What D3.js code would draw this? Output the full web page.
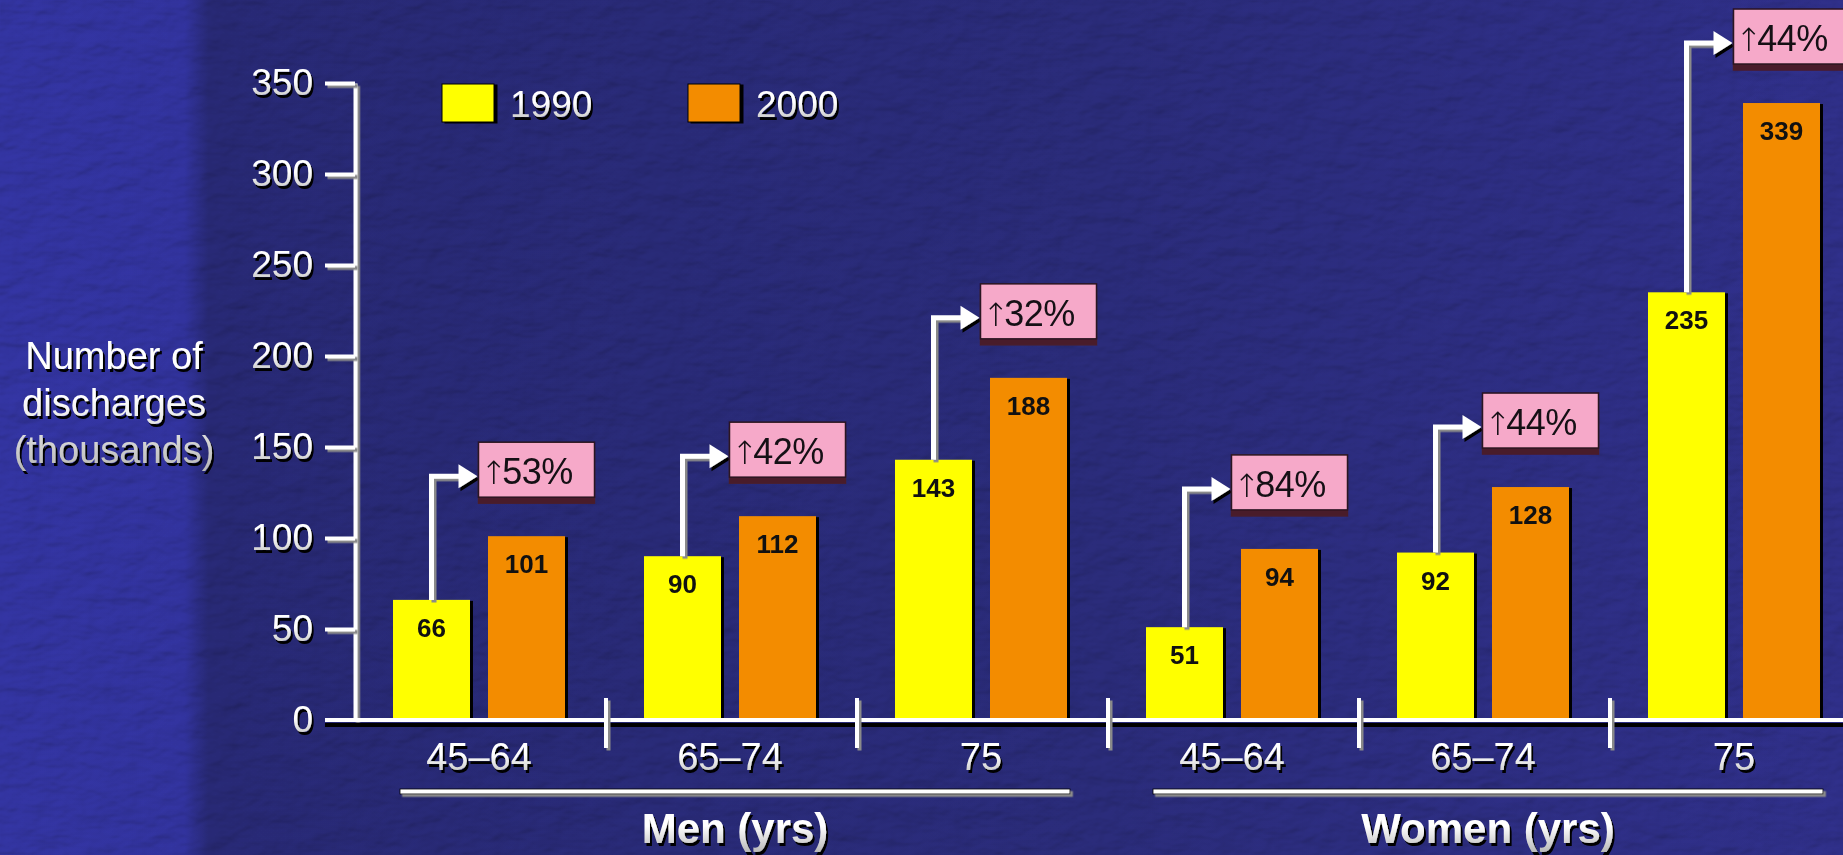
<!DOCTYPE html>
<html>
<head>
<meta charset="utf-8">
<script src="https://cdn.jsdelivr.net/npm/d3@7/dist/d3.min.js"></script>
<style>
  html, body { margin: 0; padding: 0; background: #212262; }
  svg { display: block; }
  text { font-family: "Liberation Sans", Arial, Helvetica, sans-serif; }
</style>
</head>
<body>
<svg id="chart" width="1843" height="855"></svg>
<script>
// Hospital discharges by sex and age band, 1990 vs 2000 (thousands)
const categories = ["45–64", "65–74", "75", "45–64", "65–74", "75"];
const seriesNames = ["1990", "2000"];
const values1990 = [66, 90, 143, 51, 92, 235];
const values2000 = [101, 112, 188, 94, 128, 339];
const increaseLabels = ["53%", "42%", "32%", "84%", "44%", "44%"];
const groupLabels = ["Men (yrs)", "Women (yrs)"];
const groupMembers = [[0, 1, 2], [3, 4, 5]];
const yTicks = [0, 50, 100, 150, 200, 250, 300, 350];
const yTitle = ["Number of", "discharges", "(thousands)"];

const W = 1843, H = 855;
const colors = { "1990": "#ffff00", "2000": "#f38c00" };
const svg = d3.select("#chart");
const defs = svg.append("defs");

// background tones and leather-like grain
const bg = defs.append("linearGradient").attr("id", "bgGrad").attr("x1", 0).attr("x2", 1).attr("y1", 0).attr("y2", 0);
[[0, "#28297f"], [0.1, "#27287c"], [0.113, "#1f205c"], [0.6, "#212260"], [1, "#25256c"]]
  .forEach(([o, c]) => bg.append("stop").attr("offset", o).attr("stop-color", c));

const grain = defs.append("filter").attr("id", "grain")
  .attr("filterUnits", "userSpaceOnUse").attr("x", 0).attr("y", 0).attr("width", W).attr("height", H);
grain.append("feTurbulence").attr("type", "fractalNoise").attr("baseFrequency", "0.03 0.055")
  .attr("numOctaves", 3).attr("seed", 11).attr("result", "n");
grain.append("feDiffuseLighting").attr("in", "n").attr("surfaceScale", 4)
  .attr("lighting-color", "#ffffff").attr("diffuseConstant", 1).attr("result", "l")
  .append("feDistantLight").attr("azimuth", 235).attr("elevation", 55);

// drop shadows (wide user-space regions so thin lines keep their shadow)
function shadow(id, dx, dy, color, sd) {
  const f = defs.append("filter").attr("id", id)
    .attr("filterUnits", "userSpaceOnUse").attr("x", -W).attr("y", -H).attr("width", 3 * W).attr("height", 3 * H);
  f.append("feDropShadow").attr("dx", dx).attr("dy", dy).attr("stdDeviation", sd)
    .attr("flood-color", color).attr("flood-opacity", 1);
}
shadow("txtShadow", 2, 3, "#000", 0.4);
shadow("barShadow", 3, 1, "#000", 0.3);
shadow("grayShadow", 2.5, 2.5, "#8a8a8a", 0);
shadow("blackShadow", 0, 5, "#000", 0);
shadow("boxShadow", 0, 6, "#4a1e2c", 0);

const txtGrad = defs.append("linearGradient").attr("id", "txtGrad").attr("x1", 0).attr("x2", 0).attr("y1", 0).attr("y2", 1);
txtGrad.append("stop").attr("offset", 0.45).attr("stop-color", "#ffffff");
txtGrad.append("stop").attr("offset", 1).attr("stop-color", "#b8b8b8");

svg.append("rect").attr("width", W).attr("height", H).attr("fill", "url(#bgGrad)");
svg.append("rect").attr("width", W).attr("height", H).attr("filter", "url(#grain)")
  .style("mix-blend-mode", "overlay").attr("opacity", 0.3);

// scales
const y = d3.scaleLinear().domain([0, 350]).range([720, 83]);
const x0 = d3.scaleBand().domain(d3.range(categories.length)).range([355, 355 + 251 * categories.length]);
const x1 = d3.scaleBand().domain(seriesNames).range([38, 210]).paddingInner(18 / 95);

const rows = categories.map((c, i) => ({ i, c, v: { "1990": values1990[i], "2000": values2000[i] }, inc: increaseLabels[i] }));

// y axis
const yAxis = svg.append("g").attr("transform", `translate(${x0.range()[0]},0)`)
  .call(d3.axisLeft(y).tickValues(yTicks).tickSize(30).tickSizeOuter(0).tickPadding(12));
yAxis.select(".domain").attr("stroke", "#fff").attr("stroke-width", 4).attr("filter", "url(#grayShadow)");
yAxis.selectAll(".tick line").attr("stroke", "#fff").attr("stroke-width", 4).attr("filter", "url(#grayShadow)");
yAxis.selectAll(".tick").filter(d => d === 0).select("line").remove();
yAxis.selectAll(".tick text").attr("font-size", 37).attr("fill", "url(#txtGrad)")
  .attr("filter", "url(#txtShadow)").attr("font-family", "'Liberation Sans', Arial, sans-serif");

// y title
const yt = svg.append("text").attr("x", 114).attr("text-anchor", "middle").attr("font-size", 38)
  .attr("fill", "url(#txtGrad)").attr("filter", "url(#txtShadow)");
yTitle.forEach((t, k) => yt.append("tspan").attr("x", 114).attr("y", y(200) + 13 + k * 47).text(t));

// bars
const barG = svg.append("g");
rows.forEach(r => {
  const g = barG.append("g").attr("transform", `translate(${x0(r.i)},0)`);
  seriesNames.forEach(s => {
    g.append("rect").attr("x", x1(s)).attr("y", y(r.v[s])).attr("width", x1.bandwidth())
      .attr("height", y(0) - y(r.v[s])).attr("fill", colors[s]).attr("filter", "url(#barShadow)");
    g.append("text").attr("x", x1(s) + x1.bandwidth() / 2).attr("y", y(r.v[s]) + 37)
      .attr("text-anchor", "middle").attr("font-size", 26).attr("font-weight", "bold")
      .attr("fill", "#111").text(r.v[s]);
  });
});

// x axis baseline and separators
const xAxisY = y(0);
svg.append("line").attr("x1", 325).attr("x2", W).attr("y1", xAxisY).attr("y2", xAxisY)
  .attr("stroke", "#fff").attr("stroke-width", 4).attr("filter", "url(#blackShadow)");
svg.append("g").selectAll("line").data(d3.range(1, categories.length)).join("line")
  .attr("x1", i => x0(i)).attr("x2", i => x0(i)).attr("y1", xAxisY - 22).attr("y2", xAxisY + 28)
  .attr("stroke", "#fff").attr("stroke-width", 4).attr("filter", "url(#grayShadow)");

// category labels
svg.append("g").selectAll("text").data(rows).join("text")
  .attr("x", r => x0(r.i) + (x1.range()[0] + x1.range()[1]) / 2)
  .attr("y", xAxisY + 50).attr("text-anchor", "middle").attr("font-size", 38)
  .attr("fill", "url(#txtGrad)").attr("filter", "url(#txtShadow)").text(r => r.c);

// group underlines and labels
groupLabels.forEach((lab, gi) => {
  const m = groupMembers[gi];
  const xa = x0(m[0]) + 45, xb = x0(m[m.length - 1]) + x0.step() - 38;
  svg.append("rect").attr("x", xa).attr("y", xAxisY + 69).attr("width", xb - xa).attr("height", 5)
    .attr("fill", "#fff").attr("stroke", "#000").attr("stroke-width", 0.8).attr("filter", "url(#grayShadow)");
  svg.append("text").attr("x", (xa + xb) / 2).attr("y", xAxisY + 123).attr("text-anchor", "middle")
    .attr("font-size", 42).attr("font-weight", "bold").attr("fill", "url(#txtGrad)")
    .attr("filter", "url(#txtShadow)").text(lab);
});

// increase callouts: arrow from the 1990 bar to a pink label above the 2000 bar
const callG = svg.append("g");
rows.forEach(r => {
  const cx = x0(r.i) + x1("1990") + x1.bandwidth() / 2;
  const ay = y(r.v["2000"]) - 60;
  const boxX = cx + 47, boxY = ay - 34, boxW = 116, boxH = 55;
  callG.append("path")
    .attr("d", `M${cx},${y(r.v["1990"])}V${ay}H${boxX - 16}`)
    .attr("fill", "none").attr("stroke", "#fff").attr("stroke-width", 5)
    .attr("filter", "url(#grayShadow)");
  callG.append("path")
    .attr("d", `M${boxX - 20},${ay - 12}L${boxX - 1},${ay}L${boxX - 20},${ay + 12}Z`)
    .attr("fill", "#fff").attr("filter", "url(#txtShadow)");
  callG.append("rect").attr("x", boxX).attr("y", boxY).attr("width", boxW).attr("height", boxH)
    .attr("fill", "#f6a9c9").attr("stroke", "#2a1420").attr("stroke-width", 1.5)
    .attr("filter", "url(#boxShadow)");
  const t = callG.append("text").attr("x", boxX + 2).attr("y", boxY + 42).attr("font-size", 36)
    .attr("fill", "#151015");
  t.append("tspan").attr("font-family", "'DejaVu Sans', sans-serif").attr("font-weight", 200)
    .attr("font-size", 32).attr("letter-spacing", -5).text("↑");
  t.append("tspan").attr("letter-spacing", -0.5).text(r.inc);
});

// legend
const leg = svg.append("g").attr("transform", "translate(442,84)");
seriesNames.forEach((s, k) => {
  const g = leg.append("g").attr("transform", `translate(${k * 246},0)`);
  g.append("rect").attr("width", 52).attr("height", 38).attr("fill", colors[s])
    .attr("stroke", "#000").attr("stroke-width", 1).attr("filter", "url(#barShadow)");
  g.append("text").attr("x", 68).attr("y", 33).attr("font-size", 37)
    .attr("fill", "url(#txtGrad)").attr("filter", "url(#txtShadow)").text(s);
});
</script>
</body>
</html>
